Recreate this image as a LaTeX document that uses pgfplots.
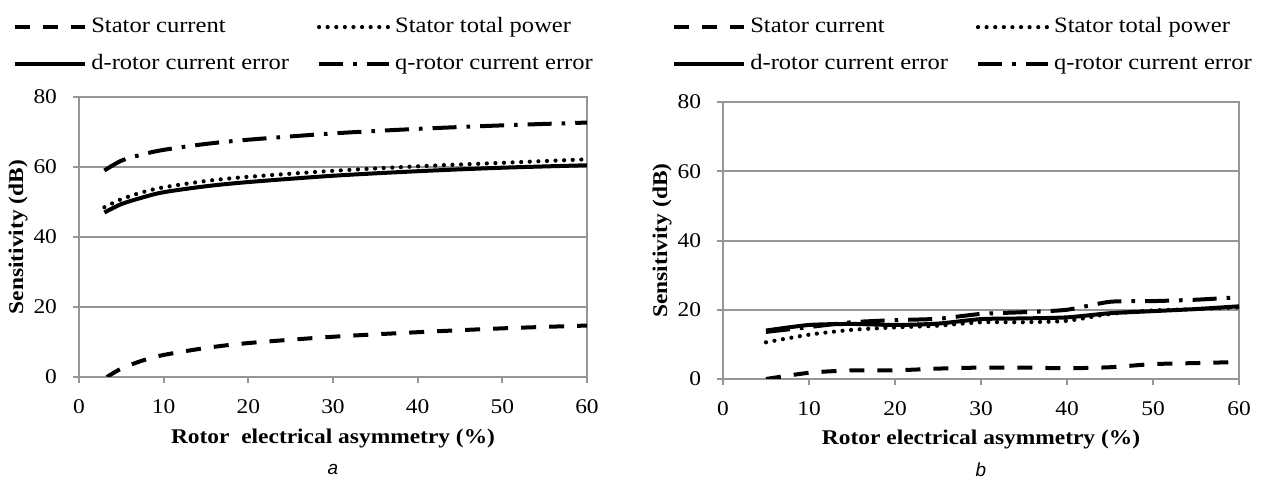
\documentclass[border=0pt]{standalone}
\usepackage{fontspec}
\setmainfont[FakeStretch=1.12]{Liberation Serif}
\newfontfamily\arialfont{Liberation Sans}
\usepackage{pgfplots}
\pgfplotsset{compat=1.18}
\definecolor{gridgray}{RGB}{150,150,150}
\pgfplotsset{
  panel/.style={
    scale only axis, clip mode=individual,
    xmin=0, xmax=60, ymin=0, ymax=80,
    xtick={0,10,...,60}, ytick={0,20,...,80},
    axis line style={gridgray, line width=1bp},
    ymajorgrids, grid style={gridgray, line width=1bp},
    tick style={gridgray, line width=1bp},
    tick align=outside, major tick length=3bp,
    xtick pos=bottom, ytick pos=left,
    tick label style={font=\fontsize{10.5}{12}\selectfont},
    xticklabel style={yshift=-5bp},
    yticklabel style={xshift=-4.5bp},
    label style={font=\bfseries\fontsize{10.5}{12}\selectfont},
    /pgf/number format/assume math mode=true,
    legend columns=2,
    legend cell align=left,
    legend style={draw=none, fill=none, inner sep=0pt,
      font=\fontsize{11}{13}\selectfont, anchor=north west,
      row sep=4bp,
      nodes={text height=8bp, text depth=2.5bp},
      /tikz/every even column/.append style={column sep=12bp}},
    every axis plot/.append style={black, line width=2bp,
      legend image code/.code={\draw[##1] (0bp,0bp) -- (35bp,0bp);}},
    xlabel={Rotor~ electrical asymmetry (\%)},
    ylabel={Sensitivity (dB)},
  },
  scur/.style={dash pattern=on 7.5bp off 6.5bp},
  stp/.style={line width=2.1bp, line cap=round, dash pattern=on 0bp off 4.3bp},
  drot/.style={solid},
  qrot/.style={dash pattern=on 12bp off 5bp on 1.8bp off 5bp},
}
\begin{document}
\begin{tikzpicture}
\useasboundingbox (0,0) rectangle (632bp,239bp);
% ---------------- panel a ----------------
\begin{axis}[panel, at={(39.5bp,50.5bp)}, anchor=south west,
  width=254bp, height=140bp,
  xlabel style={at={(axis description cs:0.5,-0.221)}, anchor=center},
  ylabel style={at={(axis description cs:-0.12,0.5)}, anchor=center},
  legend style={at={(axis description cs:-0.13,1.303)}}]
\addplot[scur, smooth] coordinates {(3.3,0) (5,2.4) (7.5,4.7) (10,6.3) (15,8.3) (20,9.7) (30,11.5) (40,12.8) (50,13.9) (60,14.7)};
\addlegendentry{Stator current}
\addplot[stp, smooth] coordinates {(3,48.5) (5,50.8) (7.5,52.8) (10,54.2) (15,56) (20,57.2) (30,58.9) (40,60.2) (50,61.2) (60,62.2)};
\addlegendentry{Stator total power}
\addplot[drot, smooth] coordinates {(3,47) (5,49.4) (7.5,51.3) (10,52.8) (15,54.5) (20,55.7) (30,57.5) (40,58.8) (50,59.8) (60,60.5)};
\addlegendentry{d-rotor current error}
\addplot[qrot, smooth] coordinates {(3,59) (5,61.8) (7.5,63.6) (10,64.9) (15,66.6) (20,67.8) (30,69.6) (40,70.9) (50,71.9) (60,72.7)};
\addlegendentry{q-rotor current error}
\node[font=\arialfont\itshape\fontsize{9.5}{11}\selectfont] at (axis description cs:0.5,-0.33) {a};
\end{axis}
% ---------------- panel b ----------------
\begin{axis}[panel, at={(361.5bp,49.5bp)}, anchor=south west,
  width=258bp, height=138.5bp,
  xlabel={Rotor electrical asymmetry (\%)},
  xlabel style={at={(axis description cs:0.5,-0.217)}, anchor=center},
  ylabel style={at={(axis description cs:-0.118,0.5)}, anchor=center},
  legend style={at={(axis description cs:-0.099,1.324)}}]
\addplot[scur, smooth, tension=0.4] coordinates {(5,0) (10,1.8) (15,2.5) (20,2.5) (25,3.0) (30,3.3) (35,3.3) (40,3.1) (45,3.4) (50,4.3) (55,4.6) (60,4.9)};
\addlegendentry{Stator current}
\addplot[stp, smooth, tension=0.4] coordinates {(5,10.6) (10,12.8) (15,14.2) (20,14.9) (25,15.4) (30,16.4) (35,16.4) (40,16.8) (45,18.8) (50,19.8) (55,20.2) (60,20.7)};
\addlegendentry{Stator total power}
\addplot[drot, smooth, tension=0.4] coordinates {(5,14) (10,15.6) (15,15.9) (20,15.6) (25,16) (30,17.3) (35,17.5) (40,17.8) (45,19) (50,19.6) (55,20.2) (60,21)};
\addlegendentry{d-rotor current error}
\addplot[qrot, smooth, tension=0.4] coordinates {(5,13.6) (10,15) (15,16.4) (20,17) (25,17.4) (30,18.8) (35,19.3) (40,20) (45,22.3) (50,22.5) (55,22.9) (60,23.6)};
\addlegendentry{q-rotor current error}
\node[font=\arialfont\itshape\fontsize{9.5}{11}\selectfont] at (axis description cs:0.5,-0.327) {b};
\end{axis}
\end{tikzpicture}
\end{document}
